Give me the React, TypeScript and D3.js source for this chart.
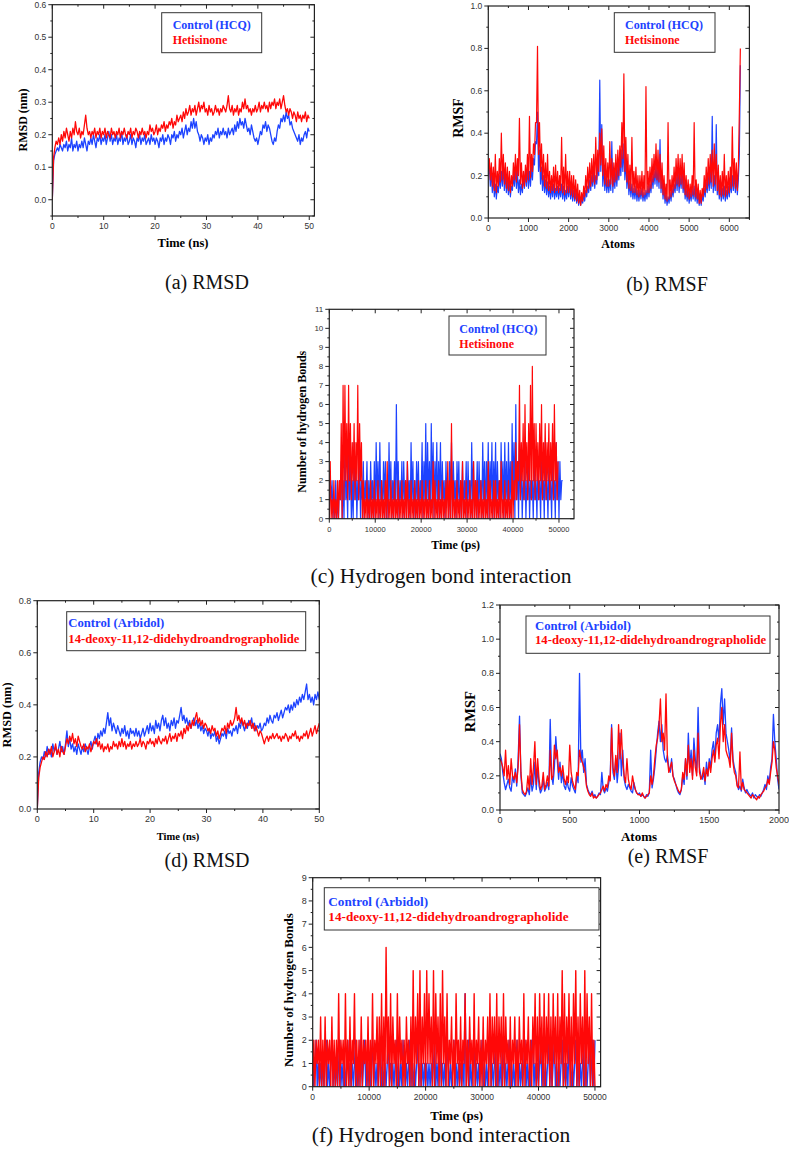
import React from "react";
import * as d3 from "d3";

const BLUE = "#1d43ff";
const RED = "#ff0808";
const SERIF = "'Liberation Serif', 'Times New Roman', serif";
const SANS = "'Liberation Sans', Arial, sans-serif";

// ---------- (a) RMSD, HCQ vs Hetisinone (time step 0.25 ns) ----------
const A_TIME_STEP = 0.25;
const A_CONTROL = [
  0, .12, .14, .15, .16, .15, .17, .16, .15, .17,
  .16, .18, .15, .17, .16, .19, .15, .17, .16, .18,
  .15, .17, .16, .18, .16, .19, .17, .15, .18, .17,
  .19, .17, .2, .18, .16, .19, .18, .2, .17, .19,
  .18, .2, .17, .19, .21, .18, .2, .17, .19, .18,
  .2, .17, .19, .18, .21, .17, .19, .18, .2, .17,
  .18, .2, .17, .19, .18, .16, .19, .18, .2, .17,
  .19, .18, .2, .17, .18, .19, .17, .2, .18, .19,
  .17, .19, .18, .16, .19, .18, .2, .17, .19, .18,
  .2, .19, .17, .2, .19, .21, .18, .2, .19, .21,
  .2, .22, .19, .21, .23, .2, .22, .21, .24, .22,
  .25, .22, .24, .21, .2, .18, .2, .19, .17, .19,
  .18, .2, .17, .19, .18, .2, .19, .21, .2, .22,
  .19, .21, .2, .22, .2, .21, .19, .22, .2, .21,
  .22, .2, .23, .21, .24, .22, .25, .23, .24, .22,
  .25, .23, .21, .22, .2, .23, .21, .19, .18, .19,
  .17, .19, .21, .2, .23, .22, .24, .21, .23, .22,
  .2, .18, .17, .19, .18, .21, .23, .22, .25, .24,
  .26, .24, .27, .25, .26, .23, .24, .22, .21, .2,
  .19, .18, .2, .17, .19, .18, .2, .21, .19, .22, .21,
];
const A_HETISINONE = [
  0, .13, .16, .18, .17, .19, .17, .2, .18, .21,
  .19, .22, .2, .18, .21, .19, .22, .2, .24, .21,
  .2, .22, .19, .21, .2, .23, .26, .22, .2, .21,
  .19, .21, .2, .22, .19, .21, .2, .22, .19, .21,
  .2, .22, .19, .21, .2, .19, .22, .2, .21, .19,
  .21, .2, .22, .19, .21, .2, .22, .2, .19, .21,
  .2, .22, .19, .21, .2, .22, .21, .19, .21, .2,
  .22, .2, .21, .19, .21, .2, .23, .21, .22, .2,
  .21, .23, .2, .22, .21, .23, .22, .24, .21, .23,
  .22, .24, .23, .25, .22, .24, .23, .26, .24, .25,
  .26, .24, .27, .25, .28, .26, .27, .29, .26, .28,
  .27, .29, .26, .28, .3, .27, .29, .28, .3, .27,
  .28, .26, .29, .27, .28, .26, .27, .29, .27, .28,
  .26, .28, .27, .29, .28, .27, .29, .32, .28, .27,
  .29, .26, .28, .27, .29, .26, .28, .27, .3, .28,
  .31, .28, .29, .27, .28, .26, .28, .27, .29, .27,
  .28, .3, .27, .29, .28, .3, .28, .29, .27, .3,
  .28, .3, .29, .31, .28, .3, .29, .31, .28, .3,
  .32, .29, .27, .28, .26, .28, .27, .25, .27, .26,
  .24, .27, .25, .26, .24, .26, .25, .27, .24, .26, .25,
];
const A_X_TICKS = [0, 10, 20, 30, 40, 50];
const A_Y_TICKS = [0, 0.1, 0.2, 0.3, 0.4, 0.5, 0.6];

// ---------- (b) RMSF, HCQ vs Hetisinone (atom step 25) ----------
const B_ATOM_STEP = 25;
const B_CONTROL = [
  .2, .25, .15, .22, .12, .2, .1, .16, .09, .15,
  .12, .2, .14, .22, .15, .25, .13, .22, .12, .18,
  .11, .17, .1, .15, .13, .2, .15, .24, .14, .22,
  .12, .18, .11, .16, .12, .2, .14, .22, .15, .24,
  .14, .22, .15, .24, .18, .28, .25, .36, .35, .5,
  .22, .32, .16, .24, .13, .2, .12, .18, .11, .17,
  .1, .15, .09, .15, .1, .16, .09, .14, .1, .15,
  .09, .14, .1, .16, .09, .15, .08, .13, .09, .15,
  .1, .16, .09, .14, .08, .13, .08, .12, .07, .11,
  .06, .1, .06, .09, .07, .11, .08, .13, .1, .15,
  .12, .18, .13, .2, .15, .22, .14, .2, .16, .25,
  .2, .65, .22, .44, .15, .25, .13, .2, .12, .18,
  .12, .18, .13, .36, .12, .2, .14, .22, .15, .24,
  .18, .28, .2, .32, .22, .35, .18, .28, .14, .22,
  .11, .17, .1, .16, .09, .14, .09, .15, .08, .13,
  .08, .13, .09, .14, .08, .12, .08, .13, .09, .15,
  .1, .16, .12, .2, .14, .22, .16, .25, .15, .24,
  .14, .37, .12, .2, .09, .15, .07, .11, .06, .1,
  .07, .12, .08, .14, .1, .16, .12, .2, .13, .22,
  .12, .2, .14, .22, .12, .18, .09, .14, .08, .13,
  .07, .12, .08, .14, .09, .15, .08, .13, .07, .12,
  .06, .1, .06, .11, .08, .14, .1, .17, .12, .2,
  .13, .22, .14, .48, .12, .2, .13, .44, .11, .18,
  .09, .15, .08, .14, .09, .15, .08, .13, .09, .15,
  .1, .17, .12, .2, .13, .22, .12, .2, .11, .18,
  .3, .72,
];
const B_HETISINONE = [
  .22, .28, .18, .26, .15, .24, .13, .3, .12, .22,
  .15, .28, .17, .4, .18, .3, .16, .26, .14, .24,
  .13, .22, .12, .2, .15, .26, .18, .3, .17, .28,
  .2, .47, .16, .26, .14, .22, .15, .25, .17, .3,
  .18, .48, .19, .3, .22, .35, .3, .45, .45, .81,
  .3, .45, .22, .35, .18, .3, .15, .26, .14, .3,
  .13, .22, .12, .2, .13, .24, .12, .25, .13, .22,
  .12, .2, .13, .38, .12, .24, .11, .3, .12, .22,
  .12, .22, .11, .2, .1, .2, .09, .18, .08, .16,
  .07, .13, .06, .12, .08, .15, .1, .2, .12, .24,
  .14, .26, .15, .28, .17, .3, .16, .38, .18, .32,
  .22, .4, .25, .42, .2, .34, .16, .28, .15, .26,
  .15, .36, .16, .28, .15, .26, .17, .3, .18, .32,
  .2, .34, .24, .45, .28, .68, .22, .38, .17, .3,
  .14, .25, .13, .38, .12, .22, .12, .24, .11, .2,
  .1, .2, .11, .22, .1, .2, .11, .62, .12, .22,
  .12, .24, .14, .28, .17, .3, .19, .35, .18, .32,
  .17, .3, .14, .26, .11, .2, .09, .16, .08, .45,
  .09, .18, .1, .2, .12, .24, .14, .28, .16, .3,
  .15, .28, .16, .3, .14, .26, .11, .2, .1, .18,
  .09, .16, .1, .2, .11, .45, .1, .18, .09, .16,
  .07, .13, .07, .14, .1, .2, .12, .24, .14, .28,
  .16, .3, .17, .32, .15, .35, .16, .3, .13, .25,
  .11, .2, .1, .22, .11, .3, .1, .2, .11, .22,
  .12, .24, .14, .43, .15, .28, .14, .26, .13, .24,
  .5, .8,
];
const B_X_TICKS = [0, 1000, 2000, 3000, 4000, 5000, 6000];
const B_Y_TICKS = [0, 0.2, 0.4, 0.6, 0.8, 1.0];

// ---------- (c) Hydrogen bonds, HCQ vs Hetisinone (step 200 ps) ----------
const C_TIME_STEP = 200;
const C_CONTROL = [
  0,2,1,2,0,1,0,2,0,1, 0,2,1,3,0,2,0,4,1,2, 0,4,1,3,0,2,0,4,1,3, 0,2,1,3,0,2,1,3,0,2,
  1,3,0,2,0,3,1,2,0,3, 0,4,1,3,0,4,1,2,0,3, 1,3,0,2,0,4,1,3,0,2, 1,3,0,6,1,3,0,2,1,3,
  0,3,1,2,0,3,1,2,0,4, 1,3,0,2,0,3,1,3,0,2, 1,4,0,3,1,5,0,4,1,3, 0,5,1,4,0,3,1,4,0,3,
  1,4,0,3,1,2,0,3,1,2, 0,3,1,4,0,3,1,2,0,3, 1,3,0,2,1,3,0,2,1,3, 0,3,1,2,0,4,1,3,0,2,
  1,3,0,3,1,2,0,4,1,3, 0,3,1,4,0,3,1,4,0,3, 1,4,0,3,1,2,0,4,1,3, 0,4,1,3,0,4,1,3,0,5,
  1,4,0,6,1,3,0,4,1,3, 0,2,1,3,0,2,1,3,0,2, 1,2,0,3,1,2,0,3,1,2, 0,3,1,2,0,4,1,2,0,3,
  1,2,0,3,1,2,0,4,1,3, 0,3,1,2,2,
];
const C_HETISINONE = [
  0,3,0,1,0,2,0,1,0,2, 0,2,1,5,0,7,1,7,2,5, 1,7,2,5,1,4,2,5,1,4, 2,7,1,5,2,4,0,2,0,1,
  0,2,0,1,0,2,0,1,0,2, 0,1,0,2,0,1,0,2,0,1, 0,2,0,3,0,1,0,2,0,1, 0,2,0,1,0,2,0,1,0,2,
  0,1,0,2,0,3,0,1,0,2, 0,1,0,2,0,1,0,2,0,1, 0,2,0,1,0,2,0,1,0,2, 0,1,0,3,0,2,0,1,0,2,
  0,1,0,2,0,1,0,2,0,3, 0,2,0,5,0,2,0,1,0,2, 0,1,0,2,0,3,0,1,0,2, 0,1,0,2,0,1,0,3,0,2,
  0,2,0,1,0,2,0,1,0,2, 0,1,0,3,0,2,0,1,0,2, 0,2,0,1,0,2,0,3,0,1, 0,2,0,1,0,2,0,1,0,3,
  0,2,1,4,1,3,2,7,1,4, 2,5,1,6,2,4,1,5,2,7, 1,8,2,5,1,5,2,4,1,5, 2,6,1,4,2,5,1,4,2,5,
  1,4,2,5,1,6,2,4,1,3,
];
const C_X_TICKS = [0, 10000, 20000, 30000, 40000, 50000];
const C_Y_TICKS = [0, 1, 2, 3, 4, 5, 6, 7, 8, 9, 10, 11];

// ---------- (d) RMSD, Arbidol vs 14-deoxy-11,12-didehydroandrographolide ----------
const D_TIME_STEP = 0.25;
const D_CONTROL = [
  0, .14, .18, .2, .19, .22, .2, .24, .21, .23,
  .2, .25, .22, .24, .21, .23, .26, .22, .24, .21,
  .25, .3, .24, .27, .23, .25, .22, .24, .21, .25,
  .23, .21, .24, .22, .25, .23, .21, .24, .26, .23,
  .26, .28, .25, .29, .27, .3, .28, .31, .29, .33,
  .37, .32, .35, .3, .33, .31, .29, .32, .3, .28,
  .31, .29, .32, .28, .3, .27, .31, .29, .3, .28,
  .31, .28, .3, .27, .29, .31, .28, .3, .32, .29,
  .33, .3, .32, .29, .34, .31, .33, .3, .34, .36,
  .32, .35, .31, .33, .3, .34, .32, .35, .31, .34,
  .33, .36, .39, .34, .36, .33, .35, .32, .34, .31,
  .33, .35, .32, .34, .31, .33, .3, .32, .29, .31,
  .3, .28, .31, .27, .29, .28, .3, .26, .28, .25,
  .27, .29, .28, .3, .27, .31, .29, .3, .28, .31,
  .3, .32, .29, .33, .31, .34, .32, .3, .33, .31,
  .34, .32, .35, .31, .33, .3, .32, .31, .33, .3,
  .31, .33, .32, .35, .33, .36, .34, .33, .36, .35,
  .37, .34, .36, .38, .35, .37, .39, .38, .4, .37,
  .4, .38, .41, .39, .42, .4, .43, .41, .44, .42,
  .45, .48, .42, .44, .41, .43, .4, .44, .42, .45, .42,
];
const D_COMPOUND = [
  0, .12, .16, .18, .2, .19, .22, .2, .23, .21,
  .24, .2, .22, .25, .21, .23, .2, .24, .22, .21,
  .24, .27, .25, .28, .26, .29, .25, .27, .24, .28,
  .26, .24, .23, .25, .22, .24, .23, .25, .22, .24,
  .26, .25, .27, .24, .26, .23, .25, .22, .24, .23,
  .25, .22, .24, .23, .26, .24, .25, .23, .26, .24,
  .27, .24, .26, .23, .25, .24, .26, .23, .25, .24,
  .26, .24, .25, .27, .24, .26, .25, .23, .26, .25,
  .27, .25, .26, .24, .27, .25, .28, .26, .25, .27,
  .26, .28, .25, .27, .29, .26, .28, .27, .29, .26,
  .29, .28, .3, .27, .31, .29, .32, .3, .33, .31,
  .34, .32, .35, .37, .33, .35, .32, .34, .31, .33,
  .32, .3, .31, .29, .32, .3, .31, .28, .3, .27,
  .29, .31, .3, .32, .29, .33, .31, .34, .32, .33,
  .35, .39, .34, .36, .33, .35, .32, .34, .31, .33,
  .32, .34, .31, .33, .3, .32, .3, .28, .3, .29,
  .27, .25, .27, .28, .26, .28, .27, .29, .27, .28,
  .29, .27, .28, .26, .28, .27, .29, .28, .26, .28,
  .27, .29, .28, .3, .27, .28, .26, .28, .27, .29,
  .28, .3, .27, .29, .31, .28, .3, .32, .29, .31, .33,
];
const D_X_TICKS = [0, 10, 20, 30, 40, 50];
const D_Y_TICKS = [0, 0.2, 0.4, 0.6, 0.8];

// ---------- (e) RMSF, Arbidol vs compound (atom step 10) ----------
const E_ATOM_STEP = 10;
const E_CONTROL = [
  .33, .3, .22, .16, .12, .15, .18, .13, .11, .2,
  .16, .24, .14, .3, .55, .2, .1, .09, .08, .1,
  .13, .09, .2, .11, .15, .28, .12, .25, .14, .1,
  .12, .18, .11, .13, .16, .12, .53, .2, .15, .25,
  .43, .3, .18, .28, .16, .22, .14, .12, .17, .13,
  .11, .19, .14, .12, .1, .2, .16, .8, .28, .35,
  .22, .3, .15, .12, .1, .09, .11, .08, .09, .07,
  .08, .1, .09, .22, .12, .1, .13, .11, .16, .2,
  .5, .22, .18, .3, .16, .25, .45, .2, .35, .18,
  .14, .12, .15, .13, .11, .1, .16, .12, .1, .09,
  .1, .08, .09, .08, .07, .09, .08, .1, .35, .13,
  .18, .25, .35, .45, .52, .4, .5, .35, .3, .28,
  .32, .25, .22, .3, .2, .18, .15, .12, .1, .09,
  .12, .2, .15, .3, .18, .45, .25, .35, .2, .42,
  .3, .22, .6, .25, .2, .18, .22, .15, .28, .2,
  .3, .25, .35, .4, .3, .45, .5, .4, .62, .71,
  .5, .65, .45, .4, .35, .28, .48, .3, .25, .22,
  .15, .12, .14, .11, .18, .13, .1, .12, .1, .09,
  .08, .1, .07, .09, .08, .07, .09, .08, .1, .12,
  .15, .12, .2, .16, .25, .3, .56, .4, .3, .18,
  .12,
];
const E_COMPOUND = [
  .3, .28, .25, .2, .35, .18, .26, .15, .3, .2,
  .18, .22, .16, .25, .5, .22, .12, .1, .09, .11,
  .2, .12, .3, .15, .25, .4, .15, .3, .18, .12,
  .14, .22, .12, .15, .2, .14, .35, .18, .2, .38,
  .3, .35, .22, .25, .2, .26, .18, .15, .2, .16,
  .38, .22, .17, .14, .12, .22, .2, .35, .3, .28,
  .25, .22, .14, .11, .09, .08, .1, .07, .08, .07,
  .08, .09, .1, .12, .14, .11, .15, .13, .2, .17,
  .48, .25, .2, .32, .22, .5, .3, .47, .28, .2,
  .16, .3, .18, .14, .12, .2, .15, .12, .1, .09,
  .09, .08, .1, .08, .07, .08, .09, .1, .2, .15,
  .2, .3, .38, .42, .5, .65, .4, .45, .35, .68,
  .3, .22, .25, .28, .2, .17, .15, .13, .11, .1,
  .12, .22, .18, .3, .2, .38, .22, .3, .18, .35,
  .25, .2, .45, .22, .18, .2, .25, .17, .24, .2,
  .28, .22, .3, .35, .28, .38, .42, .3, .5, .6,
  .4, .5, .35, .32, .3, .25, .45, .28, .22, .2,
  .14, .13, .34, .12, .16, .12, .11, .1, .09, .08,
  .07, .09, .08, .07, .06, .08, .07, .09, .1, .11,
  .13, .14, .18, .15, .22, .28, .4, .35, .25, .2,
  .15,
];
const E_X_TICKS = [0, 500, 1000, 1500, 2000];
const E_Y_TICKS = [0, 0.2, 0.4, 0.6, 0.8, 1.0, 1.2];

// ---------- (f) Hydrogen bonds, Arbidol vs compound (step 200 ps) ----------
const F_TIME_STEP = 200;
const F_CONTROL = [
  1,0,1,2,0,1,0,1,0,1, 0,1,2,0,1,0,1,2,0,1, 0,1,0,1,2,0,1,0,1,0, 1,2,0,1,0,1,0,1,2,0,
  1,0,2,1,0,1,2,0,1,0, 1,0,1,2,0,1,0,1,0,1, 2,0,1,0,1,0,1,2,0,1, 0,1,0,1,2,0,1,0,1,0,
  2,1,0,1,0,1,2,0,1,0, 1,0,1,2,0,1,0,1,0,1, 0,1,0,1,0,1,0,1,2,0, 1,0,2,1,0,1,0,1,0,2,
  1,0,1,0,1,2,0,1,0,1, 0,1,0,1,0,4,0,1,2,0, 1,0,1,2,0,1,0,1,0,1, 2,0,1,0,1,0,1,2,0,1,
  0,1,2,0,1,0,1,0,2,1, 0,1,0,1,2,0,1,0,1,0, 1,2,0,1,0,1,0,1,2,0, 1,0,1,0,2,2,0,1,0,1,
  0,1,2,0,1,0,1,0,1,2, 0,1,0,1,2,0,1,0,1,0, 1,2,0,1,0,1,0,2,1,0, 1,0,1,2,0,1,0,1,0,1,
  2,0,1,0,1,2,0,1,2,0, 2,
];
const F_COMPOUND = [
  0,2,0,2,1,2,0,3,0,2, 0,3,0,2,1,2,0,3,0,2, 0,2,0,4,0,2,1,2,0,4, 0,2,0,3,0,2,1,4,0,2,
  0,2,0,3,0,2,1,2,0,3, 0,2,0,4,0,2,1,3,0,3, 0,4,0,3,0,6,1,3,0,4, 0,3,1,2,0,4,0,3,1,2,
  0,2,0,3,1,2,0,3,0,5, 0,3,1,4,0,5,0,3,1,4, 0,5,1,4,1,3,0,5,0,4, 1,3,0,4,0,5,1,3,0,4,
  0,2,1,3,0,2,0,4,1,2, 0,3,0,2,1,4,0,2,0,3, 1,2,0,4,0,2,1,3,0,2, 0,3,0,2,1,3,0,4,0,3,
  1,3,0,4,0,3,1,3,0,4, 0,3,1,2,0,3,0,2,1,3, 0,2,0,3,1,2,0,4,0,2, 1,3,0,2,0,3,1,4,0,3,
  0,4,1,3,0,4,0,3,1,4, 0,3,0,4,1,3,0,4,0,3, 1,5,0,4,0,3,1,4,0,3, 0,4,1,5,0,3,0,4,1,3,
  0,5,0,4,1,3,0,4,0,2, 0,
];
const F_X_TICKS = [0, 10000, 20000, 30000, 40000, 50000];
const F_Y_TICKS = [0, 1, 2, 3, 4, 5, 6, 7, 8, 9];

const LEG_HCQ = ["Control (HCQ)", "Hetisinone"];
const LEG_ARB = ["Control (Arbidol)", "14-deoxy-11,12-didehydroandrographolide"];

type Series = { values: number[]; step: number; color: string };
type Legend = { x: number; y: number; w: number; h: number; tx: number; r1: number; r2: number; size: number; labels: string[] };
type PanelProps = {
  id: string;
  left: number; top: number; right: number; bottom: number;
  xDomain: [number, number]; yDomain: [number, number];
  xTicks: number[]; xMinorStep: number; yTicks: number[]; yMinorStep: number;
  xFmt: (v: number) => string; yFmt: (v: number) => string;
  xTickSize: number; yTickSize: number;
  xTitle: string; xTitlePos: [number, number]; xTitleSize: number;
  yTitle: string; yTitlePos: [number, number]; yTitleSize: number;
  legend: Legend;
  series: Series[];
  strokeWidth: number;
  caption: string; captionPos: [number, number]; captionSize: number;
};

function Panel(p: PanelProps) {
  const x = d3.scaleLinear().domain(p.xDomain).range([p.left, p.right]);
  const y = d3.scaleLinear().domain(p.yDomain).range([p.bottom, p.top]);
  const eps = 1e-9;
  const xMinor = d3.range(p.xDomain[0], p.xDomain[1] + eps, p.xMinorStep).filter((v) => !p.xTicks.some((t) => Math.abs(t - v) < 1e-6));
  const yMinor = d3.range(Math.ceil(p.yDomain[0] / p.yMinorStep - eps) * p.yMinorStep, p.yDomain[1] + eps, p.yMinorStep).filter((v) => !p.yTicks.some((t) => Math.abs(t - v) < 1e-6));
  const MAJ = 4, MIN = 2;
  const ax = "#222";
  const lineFor = (s: Series) =>
    d3.line<number>().x((_, i) => x(i * s.step)).y((v) => y(v))(s.values) || "";
  return (
    <g>
      <defs>
        <clipPath id={`clip-${p.id}`}>
          <rect x={p.left} y={p.top} width={p.right - p.left} height={p.bottom - p.top} />
        </clipPath>
      </defs>
      <g clipPath={`url(#clip-${p.id})`}>
        {p.series.map((s, k) => (
          <path key={k} d={lineFor(s)} fill="none" stroke={s.color} strokeWidth={p.strokeWidth} strokeLinejoin="round" />
        ))}
      </g>
      <rect x={p.left} y={p.top} width={p.right - p.left} height={p.bottom - p.top} fill="none" stroke={ax} strokeWidth={1.2} />
      {p.xTicks.map((t) => (
        <g key={`xt${t}`}>
          <line x1={x(t)} x2={x(t)} y1={p.bottom} y2={p.bottom + MAJ} stroke={ax} />
          <line x1={x(t)} x2={x(t)} y1={p.top} y2={p.top + MAJ} stroke={ax} />
          <text x={x(t)} y={p.bottom + 13} fontFamily={SANS} fontSize={p.xTickSize} fill="#333" textAnchor="middle">{p.xFmt(t)}</text>
        </g>
      ))}
      {xMinor.map((t) => (
        <g key={`xm${t}`}>
          <line x1={x(t)} x2={x(t)} y1={p.bottom} y2={p.bottom + MIN} stroke={ax} />
          <line x1={x(t)} x2={x(t)} y1={p.top} y2={p.top + MIN} stroke={ax} />
        </g>
      ))}
      {p.yTicks.map((t) => (
        <g key={`yt${t}`}>
          <line x1={p.left - MAJ} x2={p.left} y1={y(t)} y2={y(t)} stroke={ax} />
          <line x1={p.right - MAJ} x2={p.right} y1={y(t)} y2={y(t)} stroke={ax} />
          <text x={p.left - 6} y={y(t) + p.yTickSize * 0.35} fontFamily={SANS} fontSize={p.yTickSize} fill="#333" textAnchor="end">{p.yFmt(t)}</text>
        </g>
      ))}
      {yMinor.map((t) => (
        <g key={`ym${t}`}>
          <line x1={p.left - MIN} x2={p.left} y1={y(t)} y2={y(t)} stroke={ax} />
          <line x1={p.right - MIN} x2={p.right} y1={y(t)} y2={y(t)} stroke={ax} />
        </g>
      ))}
      <text x={p.xTitlePos[0]} y={p.xTitlePos[1] + p.xTitleSize * 0.35} fontFamily={SERIF} fontWeight="bold" fontSize={p.xTitleSize} textAnchor="middle">{p.xTitle}</text>
      <text transform={`translate(${p.yTitlePos[0] + p.yTitleSize * 0.35},${p.yTitlePos[1]}) rotate(-90)`} fontFamily={SERIF} fontWeight="bold" fontSize={p.yTitleSize} textAnchor="middle">{p.yTitle}</text>
      <rect x={p.legend.x} y={p.legend.y} width={p.legend.w} height={p.legend.h} fill="white" stroke="#333" strokeWidth={1} />
      <text x={p.legend.tx} y={p.legend.r1 + p.legend.size * 0.35} fontFamily={SERIF} fontWeight="bold" fontSize={p.legend.size} fill={BLUE}>{p.legend.labels[0]}</text>
      <text x={p.legend.tx} y={p.legend.r2 + p.legend.size * 0.35} fontFamily={SERIF} fontWeight="bold" fontSize={p.legend.size} fill={RED}>{p.legend.labels[1]}</text>
      <text x={p.captionPos[0]} y={p.captionPos[1]} fontFamily={SERIF} fontSize={p.captionSize} textAnchor="middle" fill="#111">{p.caption}</text>
    </g>
  );
}

const f1 = (v: number) => v.toFixed(1);
const f0 = (v: number) => String(Math.round(v));

export default function App() {
  return (
    <svg width={789} height={1151} viewBox="0 0 789 1151" style={{ position: "absolute", left: 0, top: 0, background: "white" }}>
      <rect x={0} y={0} width={789} height={1151} fill="white" />
      <Panel
        id="a" left={52.3} top={4.7} right={314.4} bottom={216}
        xDomain={[0, 51]} yDomain={[-0.05, 0.6]}
        xTicks={A_X_TICKS} xMinorStep={5} yTicks={A_Y_TICKS} yMinorStep={0.05}
        xFmt={f0} yFmt={f1} xTickSize={8.5} yTickSize={8.5}
        xTitle="Time (ns)" xTitlePos={[183, 243]} xTitleSize={12.5}
        yTitle="RMSD (nm)" yTitlePos={[23, 120]} yTitleSize={12}
        legend={{ x: 161.7, y: 12.7, w: 100, h: 40, tx: 172.7, r1: 25, r2: 40, size: 12, labels: LEG_HCQ }}
        series={[{ values: A_CONTROL, step: A_TIME_STEP, color: BLUE }, { values: A_HETISINONE, step: A_TIME_STEP, color: RED }]}
        strokeWidth={1.3}
        caption="(a) RMSD" captionPos={[207, 289]} captionSize={20}
      />
      <Panel
        id="b" left={488.3} top={6} right={749.4} bottom={218}
        xDomain={[0, 6500]} yDomain={[0, 1]}
        xTicks={B_X_TICKS} xMinorStep={500} yTicks={B_Y_TICKS} yMinorStep={0.1}
        xFmt={f0} yFmt={f1} xTickSize={8.5} yTickSize={8.5}
        xTitle="Atoms" xTitlePos={[618, 244]} xTitleSize={12}
        yTitle="RMSF" yTitlePos={[458.3, 118]} yTitleSize={14}
        legend={{ x: 614.3, y: 12.7, w: 100.7, h: 39.6, tx: 625, r1: 25, r2: 40, size: 12, labels: LEG_HCQ }}
        series={[{ values: B_CONTROL, step: B_ATOM_STEP, color: BLUE }, { values: B_HETISINONE, step: B_ATOM_STEP, color: RED }]}
        strokeWidth={1.2}
        caption="(b) RMSF" captionPos={[667, 291]} captionSize={20}
      />
      <Panel
        id="c" left={329.3} top={309.3} right={574} bottom={518.7}
        xDomain={[0, 53270]} yDomain={[0, 11]}
        xTicks={C_X_TICKS} xMinorStep={5000} yTicks={C_Y_TICKS} yMinorStep={0.5}
        xFmt={f0} yFmt={f0} xTickSize={7.5} yTickSize={8}
        xTitle="Time (ps)" xTitlePos={[455.7, 545]} xTitleSize={12}
        yTitle="Number of hydrogen Bonds" yTitlePos={[301.7, 421.7]} yTitleSize={12}
        legend={{ x: 449, y: 316, w: 97, h: 39, tx: 459.3, r1: 328.3, r2: 343.3, size: 12, labels: LEG_HCQ }}
        series={[{ values: C_CONTROL, step: C_TIME_STEP, color: BLUE }, { values: C_HETISINONE, step: C_TIME_STEP, color: RED }]}
        strokeWidth={1.2}
        caption="(c) Hydrogen bond interaction" captionPos={[441, 583]} captionSize={21.5}
      />
      <Panel
        id="d" left={37.3} top={600.7} right={319.3} bottom={809}
        xDomain={[0, 50]} yDomain={[0, 0.8]}
        xTicks={D_X_TICKS} xMinorStep={5} yTicks={D_Y_TICKS} yMinorStep={0.1}
        xFmt={f0} yFmt={f1} xTickSize={9} yTickSize={9}
        xTitle="Time (ns)" xTitlePos={[178, 836.7]} xTitleSize={10.5}
        yTitle="RMSD (nm)" yTitlePos={[6.7, 715]} yTitleSize={12.4}
        legend={{ x: 66.7, y: 611.7, w: 239, h: 39, tx: 68.3, r1: 622.7, r2: 638.3, size: 12.7, labels: LEG_ARB }}
        series={[{ values: D_CONTROL, step: D_TIME_STEP, color: BLUE }, { values: D_COMPOUND, step: D_TIME_STEP, color: RED }]}
        strokeWidth={1.3}
        caption="(d) RMSD" captionPos={[207, 867]} captionSize={20}
      />
      <Panel
        id="e" left={500} top={605} right={779} bottom={810}
        xDomain={[0, 2000]} yDomain={[0, 1.2]}
        xTicks={E_X_TICKS} xMinorStep={250} yTicks={E_Y_TICKS} yMinorStep={0.1}
        xFmt={f0} yFmt={f1} xTickSize={9} yTickSize={9}
        xTitle="Atoms" xTitlePos={[639, 836]} xTitleSize={13}
        yTitle="RMSF" yTitlePos={[470, 711.7]} yTitleSize={14.5}
        legend={{ x: 526, y: 616, w: 244, h: 37.3, tx: 535, r1: 625.7, r2: 640, size: 12.7, labels: LEG_ARB }}
        series={[{ values: E_CONTROL, step: E_ATOM_STEP, color: BLUE }, { values: E_COMPOUND, step: E_ATOM_STEP, color: RED }]}
        strokeWidth={1.3}
        caption="(e) RMSF" captionPos={[668, 863]} captionSize={20}
      />
      <Panel
        id="f" left={312.7} top={877.7} right={600.6} bottom={1086.7}
        xDomain={[0, 51000]} yDomain={[0, 9]}
        xTicks={F_X_TICKS} xMinorStep={5000} yTicks={F_Y_TICKS} yMinorStep={0.5}
        xFmt={f0} yFmt={f0} xTickSize={8.5} yTickSize={9}
        xTitle="Time (ps)" xTitlePos={[456.7, 1115]} xTitleSize={13}
        yTitle="Number of hydrogen Bonds" yTitlePos={[288.3, 990]} yTitleSize={13}
        legend={{ x: 324.3, y: 887.7, w: 274.7, h: 42.3, tx: 328.3, r1: 901.7, r2: 916.7, size: 13.2, labels: LEG_ARB }}
        series={[{ values: F_CONTROL, step: F_TIME_STEP, color: BLUE }, { values: F_COMPOUND, step: F_TIME_STEP, color: RED }]}
        strokeWidth={1.4}
        caption="(f) Hydrogen bond interaction" captionPos={[441, 1142]} captionSize={21.5}
      />
    </svg>
  );
}
